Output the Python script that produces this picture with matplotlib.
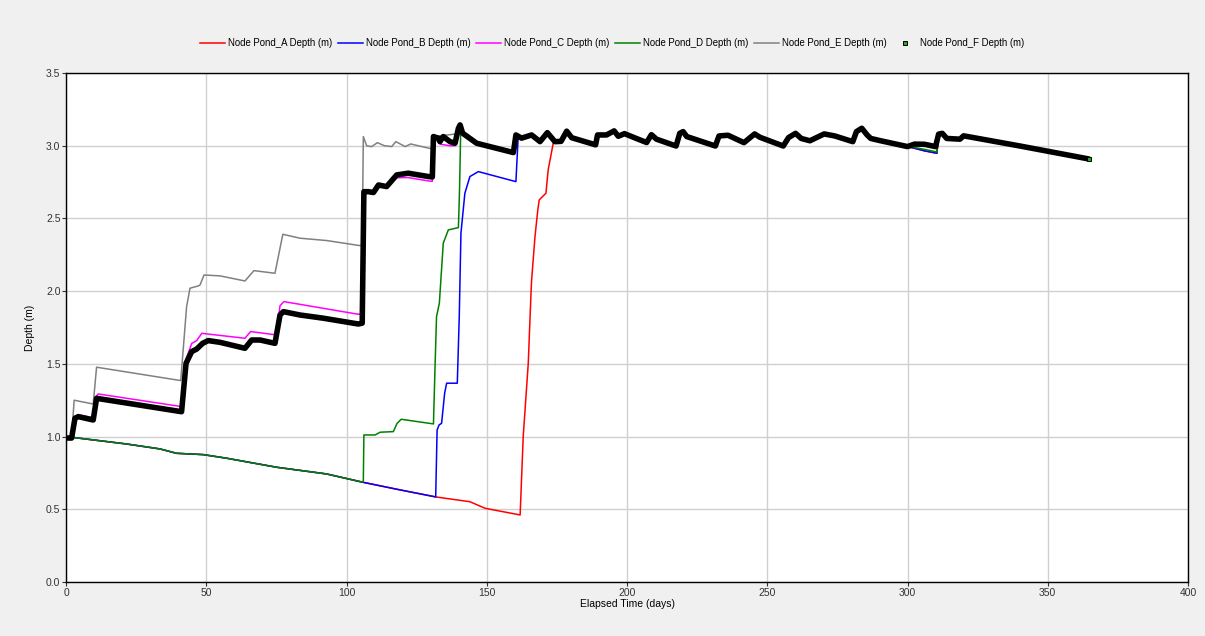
import numpy as np
import matplotlib
matplotlib.use("Agg")
import matplotlib.pyplot as plt
from matplotlib.lines import Line2D

plt.rcParams['font.family'] = ['Liberation Sans', 'DejaVu Sans']

# ---- shared falling baseline (ponds A, B, D before they fill) ----
base_t = [0.0, 9.7, 21.6, 33.5, 39.4, 48.9, 57.3, 75.1, 92.9, 105.8,
          117.9, 131.8, 144.0, 149.4, 161.9]
base_d = [1.000, 0.977, 0.949, 0.915, 0.885, 0.876, 0.851, 0.789, 0.743, 0.686,
          0.638, 0.585, 0.552, 0.507, 0.461]

# ---- common tail once every pond has filled ----
tail_t = [141.4, 146.4, 159.5, 160.4, 162.4, 166.0, 169.0, 171.6, 174.3, 176.5,
          178.5, 180.3, 188.8, 189.5, 192.7, 195.4, 196.9, 199.1, 204.6, 207.0,
          208.7, 210.5, 217.5, 218.8, 220.0, 221.3, 231.5, 232.8, 236.0, 241.7,
          245.5, 247.4, 255.7, 257.6, 260.1, 262.1, 265.2, 270.3, 274.1, 280.5,
          281.8, 283.7, 285.6, 286.9, 290.2, 300.0, 302.5, 306.0, 310.0, 311.1,
          312.4, 314.0, 318.7, 320.0, 340.1, 364.6]
tail_d = [3.086, 3.017, 2.953, 3.074, 3.052, 3.074, 3.028, 3.090, 3.028, 3.030,
          3.100, 3.055, 3.006, 3.074, 3.074, 3.102, 3.065, 3.083, 3.040, 3.022,
          3.076, 3.045, 2.998, 3.085, 3.097, 3.063, 2.998, 3.067, 3.072, 3.021,
          3.081, 3.058, 2.998, 3.056, 3.085, 3.050, 3.034, 3.081, 3.067, 3.028,
          3.097, 3.120, 3.074, 3.050, 3.035, 2.994, 3.011, 3.010, 2.994, 3.080,
          3.085, 3.050, 3.045, 3.068, 2.998, 2.909]

# small lag of the late-filling ponds around day 300-311
dip_t = [302.0, 306.0, 310.5]
dip_D = [2.990, 2.975, 2.957]
dip_AB = [2.985, 2.965, 2.948]

# ---- own segments of each pond ----
A_t = [163.0, 164.8, 165.8, 166.0, 167.2, 168.2, 168.7, 170.4, 171.1, 171.9, 173.7]
A_d = [1.000, 1.504, 1.997, 2.077, 2.375, 2.558, 2.627, 2.660, 2.673, 2.834, 3.017]

B_t = [132.3, 133.0, 133.9, 135.0, 135.7, 139.5, 140.2, 140.8, 142.2, 144.0, 147.0,
       160.4, 161.2]
B_d = [1.045, 1.080, 1.091, 1.300, 1.367, 1.367, 1.825, 2.398, 2.673, 2.788, 2.822,
       2.753, 3.060]

C_t = [0.0, 2.0, 3.2, 4.4, 9.7, 10.9, 11.5, 41.2, 42.8, 44.8, 46.6, 48.4, 63.8,
       65.8, 75.0, 76.3, 77.7, 104.2, 105.8, 106.2, 107.8, 109.6, 111.4, 114.3,
       117.9, 122.0, 129.2, 130.6, 131.0, 132.7, 133.5, 136.9, 138.7, 139.9, 140.5]
C_d = [0.990, 0.990, 1.140, 1.150, 1.130, 1.280, 1.293, 1.206, 1.530, 1.640, 1.660,
       1.710, 1.676, 1.722, 1.699, 1.900, 1.928, 1.841, 1.845, 2.684, 2.684, 2.678,
       2.730, 2.719, 2.780, 2.781, 2.758, 2.755, 3.050, 3.040, 3.010, 3.000, 3.000,
       3.100, 3.143]

D_t = [106.0, 106.2, 110.2, 112.0, 116.7, 118.0, 119.5, 131.0, 131.6, 132.1, 133.1,
       134.5, 136.3, 139.9, 140.3, 140.7]
D_d = [0.700, 1.011, 1.011, 1.030, 1.034, 1.090, 1.119, 1.087, 1.504, 1.825, 1.917,
       2.330, 2.421, 2.437, 2.700, 3.090]

E_t = [0.0, 2.0, 2.9, 9.7, 10.9, 40.9, 43.0, 44.2, 47.2, 47.8, 49.2, 54.9, 63.8,
       67.0, 74.5, 77.3, 83.4, 92.9, 104.8, 105.6, 106.0, 107.2, 109.0, 111.0,
       113.5, 116.1, 117.6, 120.9, 122.9, 130.4, 131.0]
E_d = [0.990, 0.990, 1.250, 1.224, 1.477, 1.385, 1.894, 2.020, 2.036, 2.043, 2.111,
       2.105, 2.070, 2.141, 2.123, 2.391, 2.364, 2.348, 2.313, 2.320, 3.063, 2.999,
       2.994, 3.021, 3.000, 2.994, 3.028, 2.994, 3.012, 2.978, 3.063]

F_t = [0.0, 2.0, 3.2, 4.4, 9.7, 10.9, 41.2, 42.8, 44.8, 46.6, 48.7, 50.7, 54.9,
       63.8, 66.2, 69.2, 74.5, 76.3, 77.5, 83.4, 91.7, 104.2, 105.6, 106.2, 107.8,
       109.6, 111.4, 114.3, 117.9, 122.0, 129.2, 130.6, 131.0, 132.7, 133.3, 134.5,
       136.9, 138.7, 139.9, 140.5]
F_d = [0.990, 0.990, 1.126, 1.137, 1.114, 1.263, 1.171, 1.504, 1.584, 1.602, 1.641,
       1.660, 1.648, 1.607, 1.664, 1.664, 1.641, 1.836, 1.859, 1.836, 1.814, 1.774,
       1.780, 2.684, 2.684, 2.678, 2.730, 2.719, 2.799, 2.811, 2.788, 2.785, 3.063,
       3.052, 3.028, 3.063, 3.028, 3.017, 3.120, 3.143]

labels = ["Node Pond_A Depth (m)", "Node Pond_B Depth (m)", "Node Pond_C Depth (m)",
          "Node Pond_D Depth (m)", "Node Pond_E Depth (m)", "Node Pond_F Depth (m)"]
colors = ["#ff0000", "#0000ff", "#ff00ff", "#008000", "#808080", "#000000"]

x_ticks = [0, 50, 100, 150, 200, 250, 300, 350, 400]
y_ticks = [0.0, 0.5, 1.0, 1.5, 2.0, 2.5, 3.0, 3.5]


def join(head_t, head_d, t_from=None, dip=None):
    """Concatenate a pond's own points with the common tail."""
    tt = np.array(tail_t)
    td = np.array(tail_d)
    start = head_t[-1] if t_from is None else t_from
    keep = tt > start
    tt, td = tt[keep], td[keep]
    if dip is not None:
        out = (tt > 301.0) & (tt < 310.8)
        tt = np.concatenate([tt[~out], dip_t])
        td = np.concatenate([td[~out], dip])
        order = np.argsort(tt)
        tt, td = tt[order], td[order]
    return (np.concatenate([head_t, tt]), np.concatenate([head_d, td]))


def base_until(t_end):
    bt = np.array(base_t)
    bd = np.array(base_d)
    k = bt <= t_end + 1e-9
    return list(bt[k]), list(bd[k])


bA_t, bA_d = base_until(161.9)
bB_t, bB_d = base_until(131.8)
bD_t, bD_d = base_until(105.8)

series = [
    join(bA_t + A_t, bA_d + A_d, dip=dip_AB),
    join(bB_t + B_t, bB_d + B_d, dip=dip_AB),
    join(C_t, C_d),
    join(bD_t + D_t, bD_d + D_d, dip=dip_D),
    join(E_t, E_d),
    join(F_t, F_d),
]

fig = plt.figure(figsize=(12.05, 6.36), dpi=100, facecolor="#f0f0f0")
ax = fig.add_axes([66 / 1205, 54 / 636, 1122 / 1205, 509 / 636])
ax.set_facecolor("white")

for i, (t, d) in enumerate(series[:5]):
    ax.plot(t, d, color=colors[i], lw=1.1, zorder=2 + i)

# pond F: dense square markers merge into a heavy black trace
ft, fd = series[5]
ax.plot(ft, fd, color="black", lw=4.0, solid_joinstyle="round",
        solid_capstyle="round", zorder=8)
ax.plot(ft[-1:], fd[-1:], ls="none", marker="s", ms=3.0, mec="black", mew=0.7,
        mfc="#22aa22", zorder=9)

ax.set_xlim(0, 400)
ax.set_ylim(0, 3.5)
ax.set_xticks(x_ticks)
ax.set_yticks(y_ticks)
ax.set_xticklabels([str(v) for v in x_ticks])
ax.set_yticklabels([f"{v:.1f}" for v in y_ticks])
ax.grid(True, color="#d0d0d0", lw=1.0, zorder=0)
ax.set_axisbelow(True)
ax.tick_params(labelsize=7.5, length=3, width=0.8, colors="#333333", pad=1)
for s in ax.spines.values():
    s.set_linewidth(1.0)
    s.set_color("black")
ax.set_xlabel("Elapsed Time (days)", fontsize=7.5, labelpad=1)
ax.set_ylabel("Depth (m)", fontsize=7.5, labelpad=8)

handles = [Line2D([], [], color=c, lw=1.1) for c in colors[:5]]
handles.append(Line2D([], [], ls="none", marker="s", ms=3.0, mec="black",
                      mew=0.7, mfc="#22aa22"))
fig.legend(handles, labels, loc="center", bbox_to_anchor=(0.508, 1 - 43 / 636),
           ncol=6, frameon=False, fontsize=6.9, handlelength=2.6,
           handletextpad=0.3, columnspacing=0.6)

fig.savefig("out.png", dpi=100, facecolor=fig.get_facecolor())
